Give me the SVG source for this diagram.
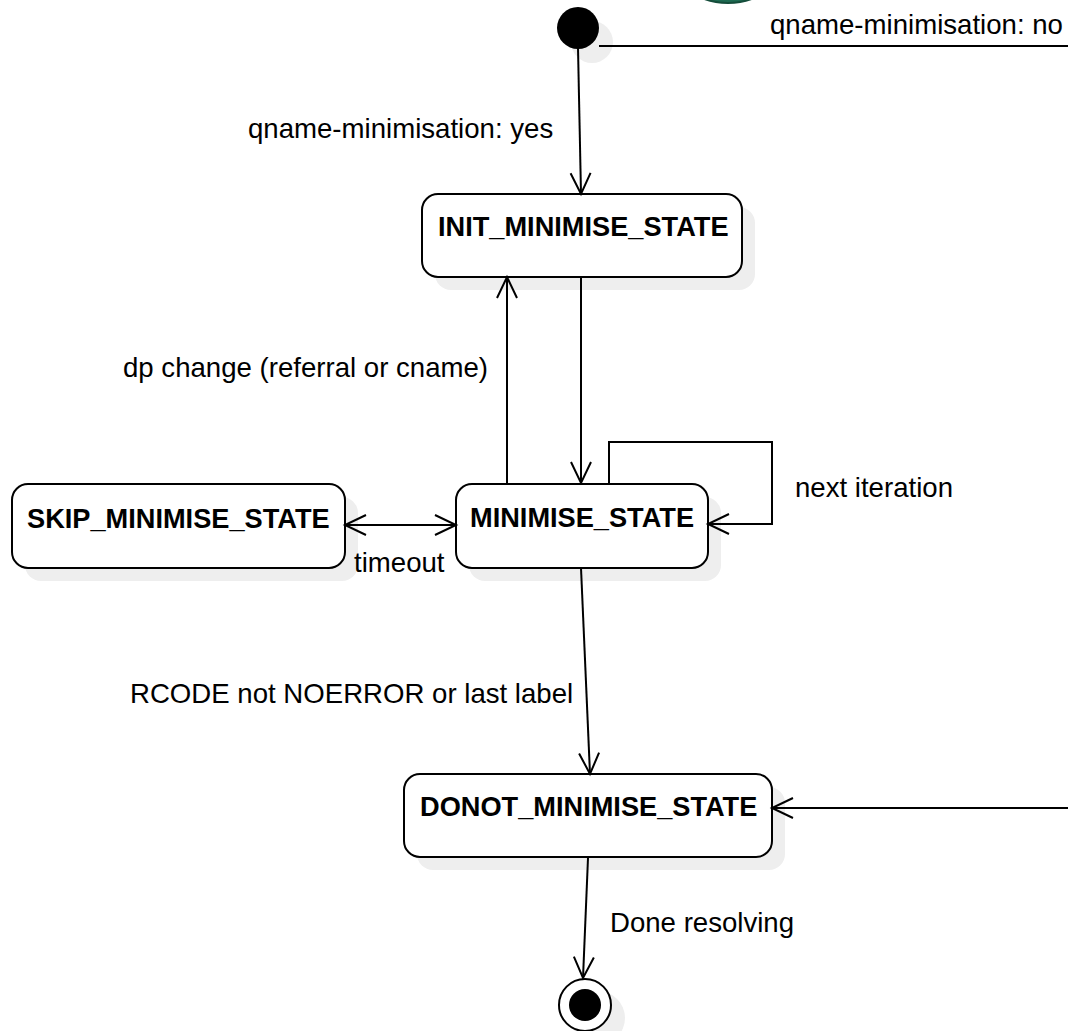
<svg xmlns="http://www.w3.org/2000/svg" width="1068" height="1031" viewBox="0 0 1068 1031">
<style>
.box{fill:#ffffff;stroke:#000000;stroke-width:2}
.shadow{fill:#eeeeee;stroke:none}
.lbl{font-family:"Liberation Sans",Arial,sans-serif;font-size:27.6px;fill:#000000}
.st{font-family:"Liberation Sans",Arial,sans-serif;font-size:27.2px;font-weight:bold;fill:#000000}
.edge{fill:none;stroke:#000000;stroke-width:2}
</style>
<defs>
<marker id="arr" markerUnits="userSpaceOnUse" markerWidth="28" markerHeight="28" viewBox="-26 -14 28 28" refX="0" refY="0" orient="auto" overflow="visible">
<path d="M-21,-10 L0,0 L-21,10" fill="none" stroke="#000000" stroke-width="2"/>
</marker>
<marker id="arrS" markerUnits="userSpaceOnUse" markerWidth="28" markerHeight="28" viewBox="-2 -14 28 28" refX="0" refY="0" orient="auto" overflow="visible">
<path d="M21,-10 L0,0 L21,10" fill="none" stroke="#000000" stroke-width="2"/>
</marker>
</defs>
<rect width="1068" height="1031" fill="#ffffff"/>
<circle cx="728" cy="-65" r="68" fill="#1e6b52" stroke="#154d3b" stroke-width="2"/>

<g id="init">
<circle class="shadow" cx="592" cy="42" r="21"/>
<circle cx="578" cy="28" r="21" fill="#000000"/>
</g>

<g id="INIT_MINIMISE_STATE">
<rect class="shadow" x="435" y="207" width="320" height="83" rx="16"/>
<rect class="box" x="422" y="194" width="320" height="83" rx="16"/>
<text class="st" x="438" y="236">INIT_MINIMISE_STATE</text>
</g>

<g id="MINIMISE_STATE">
<rect class="shadow" x="469" y="497" width="252" height="84" rx="16"/>
<rect class="box" x="456" y="484" width="252" height="84" rx="16"/>
<text class="st" x="470" y="527">MINIMISE_STATE</text>
</g>

<g id="SKIP_MINIMISE_STATE">
<rect class="shadow" x="25" y="497" width="333" height="84" rx="16"/>
<rect class="box" x="12" y="484" width="333" height="84" rx="16"/>
<text class="st" x="27" y="528">SKIP_MINIMISE_STATE</text>
</g>

<g id="DONOT_MINIMISE_STATE">
<rect class="shadow" x="417" y="787" width="368" height="83" rx="16"/>
<rect class="box" x="404" y="774" width="368" height="83" rx="16"/>
<text class="st" x="420" y="816">DONOT_MINIMISE_STATE</text>
</g>

<g id="final">
<circle class="shadow" cx="598" cy="1018" r="27"/>
<circle cx="585" cy="1005" r="26" fill="#ffffff" stroke="#000000" stroke-width="2"/>
<circle cx="585" cy="1005" r="16" fill="#000000"/>
</g>

<g id="connectors">
<path class="edge" d="M578,48 L581,194" marker-end="url(#arr)"/>
<path class="edge" d="M599,46 L1068,46"/>
<path class="edge" d="M581,278 L581,483" marker-end="url(#arr)"/>
<path class="edge" d="M507,483 L507,277" marker-end="url(#arr)"/>
<path class="edge" d="M609,483 L609,442 L772,442 L772,524 L708,524" marker-end="url(#arr)"/>
<path class="edge" d="M345,525 L456,525" marker-start="url(#arrS)" marker-end="url(#arr)"/>
<path class="edge" d="M581,568 L590,774" marker-end="url(#arr)"/>
<path class="edge" d="M1068,808 L772,808" marker-end="url(#arr)"/>
<path class="edge" d="M588,858 L583,978" marker-end="url(#arr)"/>
<text class="lbl" x="770" y="34">qname-minimisation: no</text>
<text class="lbl" x="248" y="138">qname-minimisation: yes</text>
<text class="lbl" x="123" y="377">dp change (referral or cname)</text>
<text class="lbl" x="795" y="497">next iteration</text>
<text class="lbl" x="354" y="572">timeout</text>
<text class="lbl" x="130" y="703">RCODE not NOERROR or last label</text>
<text class="lbl" x="610" y="932">Done resolving</text>
</g>
</svg>
